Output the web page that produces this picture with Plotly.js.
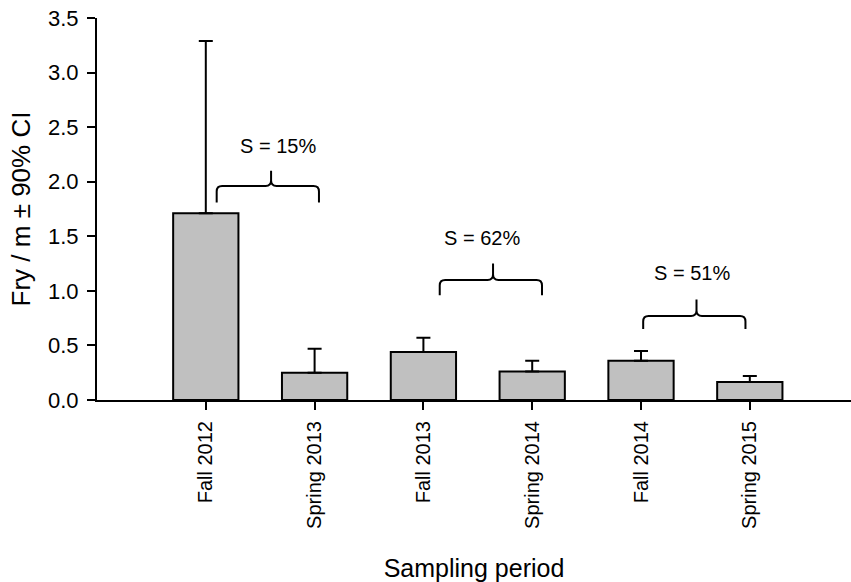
<!DOCTYPE html>
<html>
<head>
<meta charset="utf-8">
<script src="https://cdn.plot.ly/plotly-3.0.1.min.js"></script>
<style>html,body{margin:0;padding:0;background:#fff;}#chart{width:851px;height:582px;}</style>
</head>
<body>
<div id="chart"></div>
<script>
// Data
const periods = ["Fall 2012", "Spring 2013", "Fall 2013", "Spring 2014", "Fall 2014", "Spring 2015"];
const fryPerM = [1.71, 0.25, 0.44, 0.26, 0.36, 0.165];
const ciUpper = [1.58, 0.22, 0.13, 0.10, 0.09, 0.055];
const survivalLabels = ["S = 15%", "S = 62%", "S = 51%"];

// Layout helpers (decorations, not data)
const idx = periods.map((_, i) => i);
const braceCfg = [
  {x0: 0.10, x1: 1.04, xc: 0.60, tip: 1.81, lvl: 1.96, peak: 2.10, tx: 0.66, ty: 2.33},
  {x0: 2.15, x1: 3.09, xc: 2.64, tip: 0.96, lvl: 1.10, peak: 1.25, tx: 2.54, ty: 1.48},
  {x0: 4.02, x1: 4.96, xc: 4.51, tip: 0.65, lvl: 0.77, peak: 0.92, tx: 4.47, ty: 1.16}
];
const rx = 0.05, ry = 0.05;
function bracePath(b) {
  return `M${b.x0},${b.tip} L${b.x0},${b.lvl - ry} Q${b.x0},${b.lvl} ${b.x0 + rx},${b.lvl}` +
    ` L${b.xc - rx},${b.lvl} Q${b.xc},${b.lvl} ${b.xc},${b.lvl + ry} L${b.xc},${b.peak}` +
    ` M${b.xc},${b.lvl + ry} Q${b.xc},${b.lvl} ${b.xc + rx},${b.lvl}` +
    ` L${b.x1 - rx},${b.lvl} Q${b.x1},${b.lvl} ${b.x1},${b.lvl - ry} L${b.x1},${b.tip}`;
}

const font = "Arial, 'Liberation Sans', sans-serif";

const trace = {
  type: "bar",
  x: idx,
  y: fryPerM,
  width: 0.6,
  marker: {color: "#c0c0c0", line: {color: "#000", width: 2}},
  error_y: {
    type: "data",
    symmetric: false,
    array: ciUpper,
    arrayminus: ciUpper.map(() => 0),
    color: "#000",
    thickness: 2,
    width: 7
  },
  hoverinfo: "none"
};

const layout = {
  width: 851, height: 582,
  margin: {l: 97, r: 0, t: 18, b: 182},
  paper_bgcolor: "#fff", plot_bgcolor: "#fff",
  showlegend: false,
  font: {family: font, color: "#000"},
  xaxis: {
    type: "linear",
    range: [-1, 5.93],
    tickmode: "array",
    tickvals: idx,
    ticktext: periods,
    tickangle: -90,
    ticks: "outside", ticklen: 8, tickwidth: 2, tickcolor: "#000",
    tickfont: {size: 20, family: font, color: "#000"},
    ticklabelstandoff: 3,
    showgrid: false, zeroline: false,
    showline: true, linecolor: "#000", linewidth: 2,
    title: {text: "Sampling period", font: {size: 25, family: font, color: "#000"}, standoff: 34}
  },
  yaxis: {
    range: [0, 3.5],
    tickvals: [0, 0.5, 1, 1.5, 2, 2.5, 3, 3.5],
    ticktext: ["0.0", "0.5", "1.0", "1.5", "2.0", "2.5", "3.0", "3.5"],
    ticks: "outside", ticklen: 8, tickwidth: 2, tickcolor: "#000",
    tickfont: {size: 22, family: font, color: "#000"},
    ticklabelstandoff: 4,
    showgrid: false, zeroline: false,
    showline: true, linecolor: "#000", linewidth: 2,
    title: {text: "Fry / m ± 90% CI", font: {size: 26, family: font, color: "#000"}, standoff: 10}
  },
  shapes: braceCfg.map(b => ({
    type: "path", xref: "x", yref: "y", path: bracePath(b),
    line: {color: "#000", width: 2}
  })),
  annotations: braceCfg.map((b, i) => ({
    xref: "x", yref: "y", x: b.tx, y: b.ty, text: survivalLabels[i],
    showarrow: false, font: {size: 20, family: font, color: "#000"}
  }))
};

Plotly.newPlot("chart", [trace], layout, {displayModeBar: false, staticPlot: true});
</script>
</body>
</html>
